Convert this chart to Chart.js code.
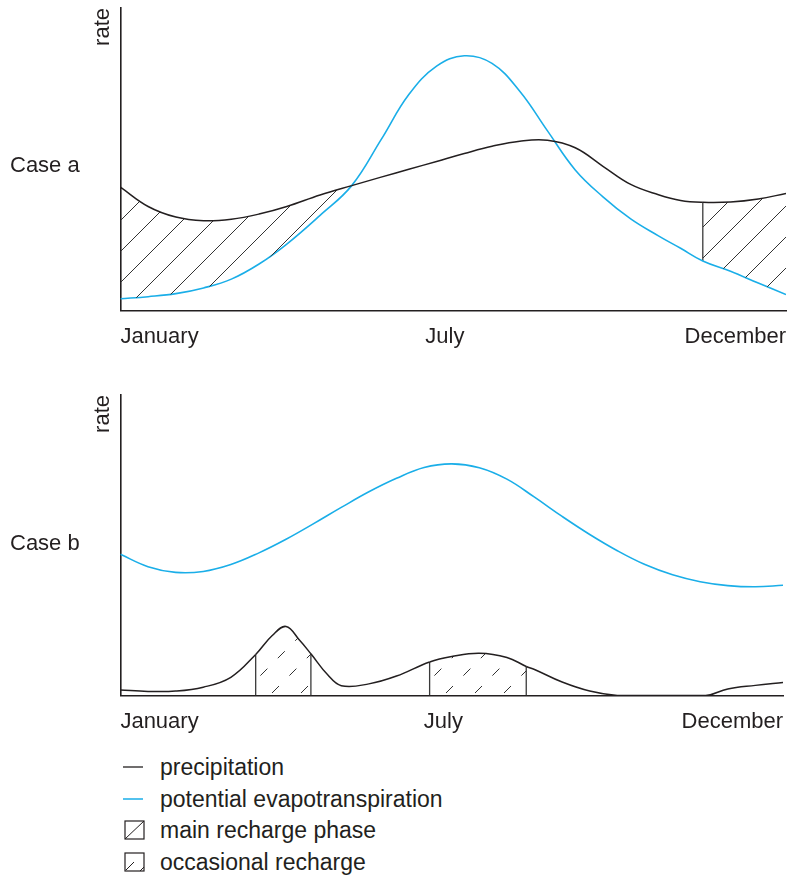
<!DOCTYPE html>
<html>
<head>
<meta charset="utf-8">
<script src="https://cdn.jsdelivr.net/npm/chart.js@4.4.0/dist/chart.umd.min.js"></script>
<style>
    body { margin: 0; background: #fff; font-family: "Liberation Sans", Arial, sans-serif; color: #231f20; }
    #page { position: relative; width: 800px; height: 875px; overflow: hidden; }
    canvas { position: absolute; left: 0; }
    .case { position: absolute; left: 10px; font-size: 22px; line-height: 22px; }
    .legend-row { position: absolute; left: 122px; height: 24px; display: flex; align-items: center; font-size: 23px; }
    .legend-row svg { width: 24px; height: 22px; margin-right: 14px; }
</style>
</head>
<body>
<div id="page">
    <canvas id="chartA" width="800" height="364" style="top:0"></canvas>
    <canvas id="chartB" width="800" height="364" style="top:385px"></canvas>
    <div class="case" style="top:154px">Case a</div>
    <div class="case" style="top:532px">Case b</div>

    <div class="legend-row" style="top:755px">
        <svg viewBox="0 0 24 22"><line x1="1" y1="11" x2="21" y2="11" stroke="#231f20" stroke-width="1.3"/></svg>precipitation
    </div>
    <div class="legend-row" style="top:787px">
        <svg viewBox="0 0 24 22"><line x1="1" y1="11" x2="21" y2="11" stroke="#1aaee8" stroke-width="1.5"/></svg>potential evapotranspiration
    </div>
    <div class="legend-row" style="top:818px">
        <svg viewBox="0 0 24 22"><rect x="3" y="2" width="19" height="18" fill="none" stroke="#231f20" stroke-width="1.2"/><line x1="3" y1="20" x2="22" y2="2" stroke="#231f20" stroke-width="1"/></svg>main recharge phase
    </div>
    <div class="legend-row" style="top:850px">
        <svg viewBox="0 0 24 22"><rect x="3" y="2" width="19" height="18" fill="none" stroke="#231f20" stroke-width="1.2"/><line x1="4" y1="19" x2="12" y2="11" stroke="#231f20" stroke-width="1"/><line x1="18" y1="20" x2="22" y2="16" stroke="#231f20" stroke-width="1"/></svg>occasional recharge
    </div>
</div>

<script>
// Tick labels (shared by both panels)
const tickPos = [0, 5.85, 12];
const tickLabels = ['January', 'July', 'December'];

// Case a
const monthsA = [0, 0.5, 1, 1.5, 2, 2.5, 3, 3.6, 4.17, 4.7, 5.2, 5.7, 6.2, 6.7, 7.2, 7.7, 8.2, 8.7, 9.2, 9.7, 10.1, 10.5, 11, 11.5, 12];
const precipA = [40.8, 34.4, 30.9, 29.7, 30.2, 31.9, 34.4, 38.2, 41.3, 44.1, 46.7, 49.3, 51.9, 54.3, 56, 56.3, 53.8, 47.7, 41.7, 38.3, 36.4, 35.8, 35.9, 36.9, 38.7];
const petA = [3.9, 4.6, 5.6, 7.5, 10.4, 15.4, 22, 31.5, 41.3, 56.5, 71.4, 80.8, 84.2, 81.7, 72.5, 59.4, 46.5, 37.6, 30.3, 24.7, 20.6, 16.4, 13, 9.1, 5.3];
const mainRechargeA = [[0, 4.17], [10.5, 12]];

// Case b
const monthsPrecipB = [0, 0.5, 1, 1.5, 2, 2.45, 2.75, 3, 3.25, 3.45, 3.75, 4, 4.5, 5, 5.6, 6, 6.5, 7, 7.35, 7.5, 8, 8.5, 9, 9.5, 10, 10.6, 11, 11.5, 12];
const precipB = [1.9, 1.4, 1.5, 2.8, 6.1, 13.7, 20, 23, 18.3, 13.9, 7, 3.3, 3.9, 6.5, 11.2, 13, 14.1, 12.7, 9.7, 8.7, 4.5, 1.5, 0, 0, 0, 0, 2.2, 3.4, 4.4];
const monthsPetB = [0, 0.5, 1, 1.5, 2, 2.5, 3, 3.5, 4, 4.5, 5, 5.5, 6, 6.5, 7, 7.5, 8, 8.5, 9, 9.5, 10, 10.5, 11, 11.5, 12];
const petB = [47, 42.9, 41, 41.3, 43.6, 47.4, 52, 57.2, 62.6, 67.8, 72.3, 75.9, 77.1, 75.8, 72, 66, 59.6, 53.6, 48.2, 43.6, 40.2, 37.9, 36.6, 36.2, 36.7];
const occasionalB = [[2.45, 3.45], [5.6, 7.35]];

const INK = '#231f20';
const BLUE = '#1aaee8';
const FONT = { family: '"Liberation Sans", Arial, sans-serif', size: 22 };

function toPoints(xs, ys) {
    return xs.map((x, i) => ({ x, y: ys[i] }));
}

function valueAt(xs, ys, x) {
    return ys[xs.indexOf(x)];
}

// Hatch patterns
function makeHatch(dashed) {
    const c = document.createElement('canvas');
    const w = dashed ? 29 : 31;
    const h = dashed ? 87 : 31;
    c.width = w;
    c.height = h;
    const g = c.getContext('2d');
    g.strokeStyle = '#333';
    g.lineWidth = 1;
    if (!dashed) {
        for (const k of [-1, 0, 1]) {
            g.beginPath();
            g.moveTo(0, w * (k + 1));
            g.lineTo(w, w * k);
            g.stroke();
        }
    } else {
        const step = h / 5;
        for (let k = -1; k <= 6; k++) {
            for (let j = -1; j <= 5; j++) {
                const yc = j * step + step / 2;
                const xc = k * w - yc;
                g.beginPath();
                g.moveTo(xc - 3.5, yc + 3.5);
                g.lineTo(xc + 3.5, yc - 3.5);
                g.stroke();
            }
        }
    }
    return g.createPattern(c, 'repeat');
}

// segment fill: hatch only between the given x ranges
function hatchSegments(ranges, pattern) {
    return (ctx) => {
        const a = ctx.p0.parsed.x;
        const b = ctx.p1.parsed.x;
        return ranges.some(([lo, hi]) => a >= lo && b <= hi) ? pattern : 'rgba(0,0,0,0)';
    };
}

function scalesFor() {
    return {
        x: {
            type: 'linear',
            min: 0,
            max: 12,
            grid: { display: false, drawTicks: false },
            border: { display: true, color: INK, width: 1.6 },
            afterBuildTicks: (axis) => { axis.ticks = tickPos.map(v => ({ value: v })); },
            ticks: {
                font: FONT,
                color: INK,
                padding: 13,
                align: 'inner',
                autoSkip: false,
                maxRotation: 0,
                callback: (v, i) => tickLabels[i]
            }
        },
        y: {
            type: 'linear',
            min: 0,
            max: 100,
            grid: { display: false, drawTicks: false },
            border: { display: true, color: INK, width: 1.6 },
            ticks: { display: false },
            title: {
                display: true,
                text: 'rate',
                align: 'end',
                font: FONT,
                color: INK,
                padding: { top: 0, bottom: 4 }
            }
        }
    };
}

function baseOptions(padding) {
    return {
        responsive: false,
        animation: false,
        devicePixelRatio: 1,
        layout: { padding },
        plugins: { legend: { display: false }, tooltip: { enabled: false } },
        elements: { point: { radius: 0 }, line: { tension: 0.4 } },
        scales: scalesFor()
    };
}

function edge(x, y0, y1) {
    return { data: [{ x, y: y0 }, { x, y: y1 }], borderColor: '#3a3a3a', borderWidth: 1.3, fill: false, tension: 0 };
}

// Case a chart
function initChartA() {
    const hatch = makeHatch(false);
    const start = mainRechargeA[1][0];
    const datasets = [
        {
            data: toPoints(monthsA, precipA),
            borderColor: INK,
            borderWidth: 1.5,
            backgroundColor: 'rgba(0,0,0,0)',
            fill: { target: 1 },
            segment: { backgroundColor: hatchSegments(mainRechargeA, hatch) }
        },
        { data: toPoints(monthsA, petA), borderColor: BLUE, borderWidth: 1.6, fill: false },
        // vertical edge where the second hatched area starts
        edge(start, valueAt(monthsA, petA, start), valueAt(monthsA, precipA, start))
    ];

    new Chart(document.getElementById('chartA'), {
        type: 'line',
        data: { datasets },
        options: baseOptions({ left: 90, right: 14, top: 8, bottom: 1 })
    });
}

// Case b chart
function initChartB() {
    const hatch = makeHatch(true);
    const datasets = [
        {
            data: toPoints(monthsPrecipB, precipB),
            borderColor: INK,
            borderWidth: 1.5,
            backgroundColor: 'rgba(0,0,0,0)',
            fill: 'origin',
            segment: { backgroundColor: hatchSegments(occasionalB, hatch) }
        },
        { data: toPoints(monthsPetB, petB), borderColor: BLUE, borderWidth: 1.6, fill: false }
    ];
    occasionalB.forEach(([a, b]) => {
        datasets.push(edge(a, 0, valueAt(monthsPrecipB, precipB, a)));
        datasets.push(edge(b, 0, valueAt(monthsPrecipB, precipB, b)));
    });

    new Chart(document.getElementById('chartB'), {
        type: 'line',
        data: { datasets },
        options: baseOptions({ left: 90, right: 17, top: 10, bottom: 1 })
    });
}

initChartA();
initChartB();
</script>
</body>
</html>
